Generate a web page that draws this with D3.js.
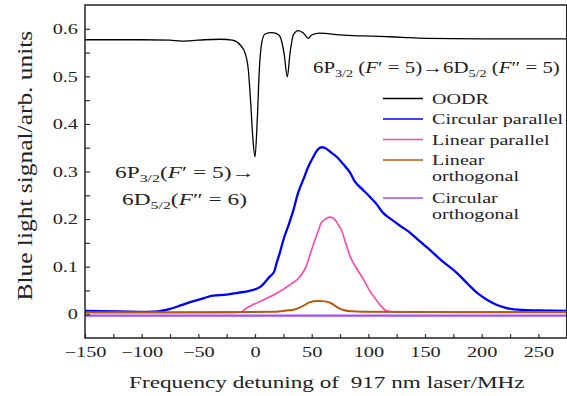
<!DOCTYPE html>
<html lang="en">
<head>
<meta charset="UTF-8">
<title>Blue light signal vs 917 nm detuning</title>
<script src="https://cdn.jsdelivr.net/npm/d3@7"></script>
<style>
  body { margin: 0; background: #fff; }
  svg { display: block; }
  svg text { font-family: "Liberation Serif", "DejaVu Serif", serif; }
  .axis line { stroke: #333; stroke-width: 1.2; }
  .axis path { display: none; }
  .axis text { fill: #222; font-size: 14.5px; }
</style>
</head>
<body>
<div id="chart"></div>
<script>
// ---- data: [detuning MHz, signal] ----
const oodr = [
  [-150, 0.577], [-100, 0.577], [-75, 0.576], [-65, 0.574], [-55, 0.575], [-45, 0.577],
  [-30, 0.578], [-20, 0.576], [-13, 0.566], [-8.8, 0.549], [-5.9, 0.514], [-3.8, 0.444],
  [-2, 0.373], [0, 0.331], [2, 0.409], [3.8, 0.514], [5.9, 0.57], [8.8, 0.589],
  [14.7, 0.592], [19, 0.59], [22, 0.584], [25.6, 0.549], [28.5, 0.499], [30.9, 0.549],
  [33.8, 0.587], [38.2, 0.596], [42.6, 0.591], [47, 0.58], [50, 0.587], [57, 0.591],
  [75, 0.587], [95, 0.585], [110, 0.584], [130, 0.582], [150, 0.580], [200, 0.579], [275, 0.579]
];
const circParallel = [
  [-150, 0.007], [-120, 0.006], [-95, 0.005], [-85, 0.006], [-75, 0.011], [-65, 0.019],
  [-55, 0.027], [-45, 0.034], [-37, 0.039], [-25, 0.041], [-15, 0.045], [-5, 0.049],
  [5, 0.058], [13, 0.079], [17, 0.09], [19, 0.107], [22, 0.13], [25, 0.156], [30, 0.19],
  [34, 0.22], [38, 0.255], [42.6, 0.283], [47, 0.31], [51.5, 0.331], [55, 0.345],
  [59, 0.351], [63, 0.348], [67, 0.34], [72, 0.331], [78, 0.315], [84, 0.297], [88, 0.279],
  [95, 0.262], [100, 0.25], [107, 0.232], [113, 0.213], [120, 0.2], [128, 0.186],
  [137, 0.171], [145, 0.154], [154, 0.136], [165, 0.112], [178, 0.087], [188, 0.063],
  [198, 0.041], [205, 0.03], [212, 0.021], [222, 0.013], [235, 0.009], [250, 0.008], [275, 0.007]
];
const linParallel = [
  [-150, 0.003], [-20, 0.003], [-13, 0.004], [-8, 0.012], [0, 0.022], [10, 0.033],
  [20, 0.045], [31, 0.062], [40, 0.08], [45, 0.1], [48.5, 0.125], [52, 0.15], [55, 0.17],
  [58, 0.19], [62, 0.2], [66, 0.204], [70, 0.2], [73, 0.19], [76, 0.178], [80, 0.15],
  [84, 0.121], [90, 0.095], [96, 0.072], [101, 0.05], [107, 0.03], [112, 0.015],
  [116, 0.007], [122, 0.005], [275, 0.005]
];
const linOrthogonal = [
  [-150, 0.004], [15, 0.005], [25, 0.007], [35, 0.01], [42, 0.017], [48, 0.025],
  [55, 0.028], [62, 0.027], [68, 0.022], [73, 0.014], [78, 0.009], [85, 0.006],
  [95, 0.005], [275, 0.004]
];
const circOrthogonal = [
  [-150, -0.003], [0, -0.003], [100, -0.003], [275, -0.003]
];

const seriesNames = ["OODR", "Circular parallel", "Linear parallel", "Linear\northogonal", "Circular\northogonal"];
const xTicks = [-150, -100, -50, 0, 50, 100, 150, 200, 250];
const xMinorTicks = [-125, -75, -25, 25, 75, 125, 175, 225];
const yTicks = [0, 0.1, 0.2, 0.3, 0.4, 0.5, 0.6];
const yMinorTicks = [0.05, 0.15, 0.25, 0.35, 0.45, 0.55];
const xTitle = "Frequency detuning of  917 nm laser/MHz";
const yTitle = "Blue light signal/arb. units";

// ---- layout ----
const W = 567, H = 396;
const plot = { left: 85, top: 5, right: 566.7, bottom: 338 };
const colors = ["#000000", "#0000ff", "#ff45a8", "#b85a0c", "#a04dff"];
const widths = [1.3, 2.3, 1.6, 2, 2.3];

const svg = d3.select("#chart").append("svg")
  .attr("width", W).attr("height", H);

const x = d3.scaleLinear().domain([-150, 275]).range([plot.left, plot.right]);
const y = d3.scaleLinear().domain([-0.05, 0.65]).range([plot.bottom, plot.top]);

svg.append("clipPath").attr("id", "clip")
  .append("rect")
  .attr("x", plot.left).attr("y", plot.top)
  .attr("width", plot.right - plot.left).attr("height", plot.bottom - plot.top);

const line = d3.line()
  .x(d => x(d[0]))
  .y(d => y(d[1]))
  .curve(d3.curveMonotoneX);

const curves = [oodr, circParallel, linParallel, linOrthogonal, circOrthogonal];
const gLines = svg.append("g").attr("clip-path", "url(#clip)");
curves.forEach((c, i) => {
  gLines.append("path")
    .datum(c)
    .attr("fill", "none")
    .attr("stroke", colors[i])
    .attr("stroke-width", widths[i])
    .attr("stroke-linejoin", "round")
    .attr("d", line);
});

// axes, ticks point inward
const TX = 1.4; // horizontal stretch of the original lettering

const gx = svg.append("g").attr("class", "axis")
  .attr("transform", `translate(0,${plot.bottom})`)
  .call(d3.axisBottom(x).tickValues(xTicks).tickSize(-4).tickPadding(9).tickFormat(d3.format("d")));
gx.append("g")
  .call(d3.axisBottom(x).tickValues(xMinorTicks).tickSize(-4).tickFormat(""));
gx.attr("font-family", null).attr("font-size", null);
gx.selectAll("text").attr("transform", `scale(${TX},1)`);

const gy = svg.append("g").attr("class", "axis")
  .attr("transform", `translate(${plot.left},0)`)
  .call(d3.axisLeft(y).tickValues(yTicks).tickSize(-5).tickPadding(0)
    .tickFormat(d => d === 0 ? "0" : d3.format(".1f")(d)));
gy.append("g")
  .call(d3.axisLeft(y).tickValues(yMinorTicks).tickSize(-5).tickFormat(""));
gy.attr("font-family", null).attr("font-size", null);
gy.selectAll("text").attr("x", 0).attr("transform", `translate(-7,0) scale(${TX},1)`);
svg.selectAll(".axis path").remove();

// frame
svg.append("rect")
  .attr("x", plot.left).attr("y", plot.top)
  .attr("width", plot.right - plot.left).attr("height", plot.bottom - plot.top)
  .attr("fill", "none").attr("stroke", "#222").attr("stroke-width", 1.5);

// stretch a text so its ink spans the given width
function fit(text, width, sy = 1) {
  const b = text.node().getBBox();
  text.attr("transform", `scale(${width / b.width},${sy}) translate(${-b.x},0)`);
}

function mathText(parent, px, py, size, parts, width) {
  const g = parent.append("g").attr("transform", `translate(${px},${py})`);
  const t = g.append("text").attr("font-size", size).attr("fill", "#222")
    .style("white-space", "pre");
  let shifted = 0;
  parts.forEach(([s, kind]) => {
    const ts = t.append("tspan").text(s);
    if (kind === "sub") {
      ts.attr("font-size", size * 0.68).attr("dy", 4 - shifted);
      shifted = 4;
    } else {
      if (shifted) ts.attr("dy", -shifted);
      shifted = 0;
      if (kind === "it") ts.attr("font-style", "italic");
    }
  });
  fit(t, width);
  return g;
}

// annotations
mathText(svg, 313, 73, 16.5, [["6P"], ["3/2", "sub"], [" ("], ["F", "it"], ["′ = 5)→6D"],
  ["5/2", "sub"], [" ("], ["F", "it"], ["″ = 5)"]], 247);
mathText(svg, 115, 178, 16.5, [["6P"], ["3/2", "sub"], ["("], ["F", "it"], ["′ = 5)→"]], 140);
mathText(svg, 122, 205, 16.5, [["6D"], ["5/2", "sub"], ["("], ["F", "it"], ["″ = 6)"]], 125);

// axis titles
const xt = svg.append("g").attr("transform", `translate(129,388)`)
  .append("text").attr("font-size", 17.5).attr("fill", "#222")
  .style("white-space", "pre").text(xTitle);
fit(xt, 396);

const yt = svg.append("g").attr("transform", `translate(32,300.5) rotate(-90)`)
  .append("text").attr("font-size", 16).attr("fill", "#222").text(yTitle);
fit(yt, 270, 1.3);

// legend
const legend = svg.append("g");
let ly = 98.5;
const legendTexts = [];
seriesNames.forEach((name, i) => {
  legend.append("line")
    .attr("x1", 383).attr("x2", 423).attr("y1", ly).attr("y2", ly)
    .attr("stroke", colors[i]).attr("stroke-width", 1.4);
  const rows = name.split("\n");
  rows.forEach((r, k) => {
    const g = legend.append("g").attr("transform", `translate(432,${ly + 5 + k * 15.5})`);
    legendTexts.push(g.append("text").attr("font-size", 15).attr("fill", "#222").text(r));
  });
  ly += rows.length > 1 ? 38 : 20.5;
});
// one common stretch, taken from the longest label
const ref = legendTexts[1].node().getBBox();
const lsx = 131 / ref.width;
legendTexts.forEach(t => t.attr("transform", `scale(${lsx},1)`));
</script>
</body>
</html>
